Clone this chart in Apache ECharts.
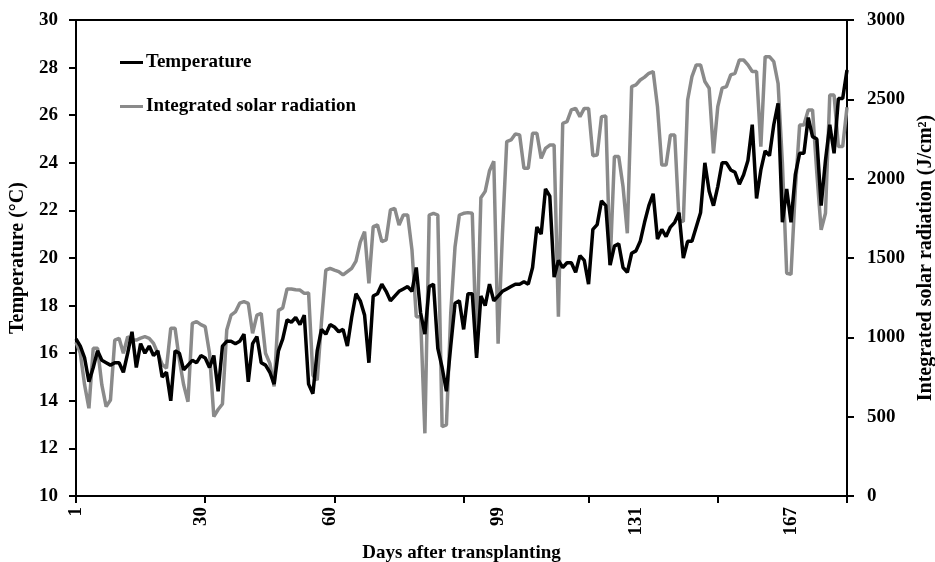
<!DOCTYPE html>
<html>
<head>
<meta charset="utf-8">
<script src="https://cdn.jsdelivr.net/npm/echarts@6/dist/echarts.min.js"></script>
<style>
html,body{margin:0;padding:0;background:#fff;}
#chart{width:935px;height:562px;}
</style>
</head>
<body>
<div id="chart"></div>
<script>
// Days after transplanting (1..180)
const days = Array.from({length: 180}, (_, i) => String(i + 1));

// Daily mean temperature (°C)
const temperature = [
  16.6, 16.3, 15.8, 14.8, 15.4, 16.1, 15.7, 15.6, 15.5, 15.6,
  15.6, 15.2, 16.0, 16.9, 15.4, 16.4, 16.0, 16.3, 15.9, 16.1,
  15.0, 15.2, 14.0, 16.1, 16.0, 15.3, 15.5, 15.7, 15.6, 15.9,
  15.8, 15.4, 15.9, 14.4, 16.3, 16.5, 16.5, 16.4, 16.5, 16.8,
  14.8, 16.4, 16.7, 15.6, 15.5, 15.2, 14.7, 16.1, 16.6, 17.4,
  17.3, 17.5, 17.2, 17.6, 14.7, 14.3, 16.1, 17.0, 16.8, 17.2,
  17.1, 16.9, 17.0, 16.3, 17.5, 18.5, 18.2, 17.6, 15.6, 18.4,
  18.5, 18.9, 18.6, 18.2, 18.4, 18.6, 18.7, 18.8, 18.6, 19.6,
  17.7, 16.8, 18.8, 18.9, 16.2, 15.4, 14.4, 16.3, 18.1, 18.2,
  17.0, 18.5, 18.5, 15.8, 18.4, 18.0, 18.9, 18.2, 18.4, 18.6,
  18.7, 18.8, 18.9, 18.9, 19.0, 18.9, 19.6, 21.3, 21.0, 22.9,
  22.6, 19.2, 19.9, 19.6, 19.8, 19.8, 19.4, 20.1, 19.9, 18.9,
  21.2, 21.4, 22.4, 22.2, 19.7, 20.5, 20.6, 19.6, 19.4, 20.2,
  20.3, 20.7, 21.5, 22.2, 22.7, 20.8, 21.2, 20.9, 21.3, 21.5,
  21.9, 20.0, 20.7, 20.7, 21.3, 21.9, 24.0, 22.8, 22.2, 23.0,
  24.0, 24.0, 23.7, 23.6, 23.1, 23.5, 24.1, 25.6, 22.5, 23.7,
  24.5, 24.3, 25.6, 26.5, 21.5, 22.9, 21.5, 23.5, 24.4, 24.4,
  25.9, 25.1, 25.0, 22.2, 24.1, 25.6, 24.4, 26.7, 26.7, 27.9
];

// Integrated solar radiation (J/cm²)
const radiation = [
  970, 900, 700, 553, 931, 931, 700, 563, 605, 983,
  994, 899, 1004, 983, 983, 995, 1004, 994, 962, 899,
  830, 805, 1057, 1057, 857, 700, 594, 1088, 1099, 1080,
  1067, 900, 500, 545, 580, 1046, 1140, 1160, 1215, 1225,
  1214, 1025, 1140, 1151, 900, 836, 690, 1170, 1185, 1305,
  1305, 1300, 1298, 1277, 1280, 760, 730, 1100, 1424, 1435,
  1424, 1414, 1393, 1414, 1435, 1480, 1600, 1666, 1340, 1698,
  1708, 1603, 1614, 1803, 1813, 1708, 1771, 1771, 1551, 1130,
  1130, 395, 1771, 1782, 1771, 437, 448, 1151, 1571, 1771,
  1782, 1786, 1782, 900, 1880, 1920, 2050, 2110, 960, 1650,
  2233, 2244, 2282, 2275, 2065, 2065, 2286, 2286, 2128, 2191,
  2212, 2212, 1130, 2349, 2359, 2433, 2443, 2391, 2443, 2443,
  2145, 2149, 2391, 2395, 1456, 2139, 2139, 1950, 1656, 2580,
  2591, 2622, 2640, 2664, 2675, 2454, 2086, 2086, 2275, 2275,
  1740, 1729, 2496, 2643, 2717, 2717, 2612, 2570, 2160, 2454,
  2570, 2580, 2654, 2664, 2748, 2748, 2717, 2675, 2675, 2202,
  2769, 2769, 2738, 2600, 2100, 1404, 1397, 1929, 2338, 2338,
  2433, 2433, 2034, 1677, 1782, 2527, 2527, 2202, 2202, 2450
];

// Axis tick labels shown on x axis, and tick mark positions (day index)
const xLabelDays = ['1', '30', '60', '99', '131', '167'];
const xTickIdx = [0, 30, 60, 90, 119, 149, 179];

const font = 'Liberation Serif';
const chart = echarts.init(document.getElementById('chart'));
chart.setOption({
  animation: false,
  backgroundColor: '#fff',
  grid: {left: 76, right: 88, top: 20, bottom: 66, show: true, borderColor: '#000', borderWidth: 2,
    containLabel: false, outerBoundsMode: 'none'},
  legend: {
    orient: 'vertical', left: 115, top: 48, itemGap: 25,
    icon: 'rect', itemWidth: 23, itemHeight: 3, itemStyle: {borderWidth: 0},
    data: ['Temperature', 'Integrated solar radiation'],
    textStyle: {fontFamily: font, fontWeight: 'bold', fontSize: 19, color: '#000', padding: [0, 0, 0, -2]}
  },
  xAxis: {
    type: 'category', data: days, boundaryGap: false,
    name: 'Days after transplanting', nameLocation: 'middle', nameGap: 47,
    nameTextStyle: {fontFamily: font, fontWeight: 'bold', fontSize: 19, color: '#000'},
    axisLine: {lineStyle: {color: '#000', width: 2}},
    axisTick: {show: true, length: 7, lineStyle: {color: '#000', width: 2},
      interval: (i) => xTickIdx.indexOf(i) >= 0},
    axisLabel: {rotate: 90, margin: 11, fontFamily: font, fontWeight: 'bold', fontSize: 19, color: '#000',
      interval: (i, v) => xLabelDays.indexOf(v) >= 0},
    splitLine: {show: false}
  },
  yAxis: [{
    type: 'value', min: 10, max: 30, interval: 2,
    name: 'Temperature (°C)', nameLocation: 'middle', nameGap: 46, nameRotate: 90,
    nameTextStyle: {fontFamily: font, fontWeight: 'bold', fontSize: 20, color: '#000'},
    axisLine: {show: true, lineStyle: {color: '#000', width: 2}},
    axisTick: {show: true, length: 7, lineStyle: {color: '#000', width: 2}},
    axisLabel: {margin: 18, fontFamily: font, fontWeight: 'bold', fontSize: 19, color: '#000'},
    splitLine: {show: false}
  }, {
    type: 'value', min: 0, max: 3000, interval: 500, position: 'right',
    name: 'Integrated solar radiation (J/cm²)', nameLocation: 'middle', nameGap: 69, nameRotate: 90,
    nameTextStyle: {fontFamily: font, fontWeight: 'bold', fontSize: 20, color: '#000'},
    axisLine: {show: true, lineStyle: {color: '#000', width: 2}},
    axisTick: {show: true, length: 7, lineStyle: {color: '#000', width: 2}},
    axisLabel: {margin: 20, fontFamily: font, fontWeight: 'bold', fontSize: 19, color: '#000',
      formatter: (v) => String(v)},
    splitLine: {show: false}
  }],
  series: [{
    name: 'Integrated solar radiation', type: 'line', yAxisIndex: 1, data: radiation,
    showSymbol: false, symbol: 'none', lineStyle: {color: '#8a8a8a', width: 3.5}, itemStyle: {color: '#8a8a8a'}
  }, {
    name: 'Temperature', type: 'line', yAxisIndex: 0, data: temperature,
    showSymbol: false, symbol: 'none', lineStyle: {color: '#000', width: 3.5}, itemStyle: {color: '#000'}
  }]
});
</script>
</body>
</html>
